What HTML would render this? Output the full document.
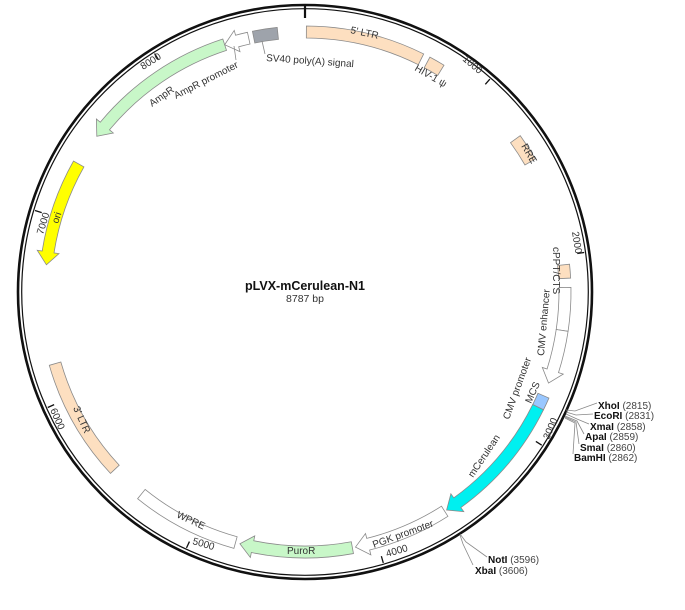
<!DOCTYPE html>
<html><head><meta charset="utf-8">
<style>
html,body{margin:0;padding:0;background:#fff;}
svg{display:block;}
text{font-family:"Liberation Sans",sans-serif;fill:#333;}
.t{font-size:10px;}
.f{font-size:10px;}
.b{font-size:10px;font-weight:bold;fill:#111;}
.n{font-size:10px;fill:#444;}
</style></head><body>
<svg id="s" width="685" height="610" viewBox="0 0 685 610" xmlns="http://www.w3.org/2000/svg">
<g id="shapes"></g>
<circle cx="305" cy="292" r="287" fill="none" stroke="#111" stroke-width="2.6"/>
<circle cx="305" cy="292" r="283.3" fill="none" stroke="#111" stroke-width="1.2"/>
<line x1="305" y1="4" x2="305" y2="18" stroke="#111" stroke-width="2.2"/>
<g id="ticks"></g>
<text class="t" transform="translate(462,60) rotate(40)">1000</text>
<text class="t" transform="translate(572,232) rotate(81)">2000</text>
<text class="t" transform="translate(549,440) rotate(-67)">3000</text>
<text class="t" transform="translate(387,557) rotate(-16)">4000</text>
<text class="t" transform="translate(192,544) rotate(16)">5000</text>
<text class="t" transform="translate(50,410) rotate(66)">6000</text>
<text class="t" transform="translate(43,235) rotate(-73)">7000</text>
<text class="t" transform="translate(143,70) rotate(-32)">8000</text>
<text class="f" transform="translate(350,33) rotate(12)">5' LTR</text>
<text class="f" transform="translate(414,70) rotate(30)">HIV-1 ψ</text>
<text class="f" transform="translate(521,146) rotate(60)">RRE</text>
<text class="f" transform="translate(553,247) rotate(90)">cPPT/CTS</text>
<text class="f" transform="translate(544,356) rotate(-85)">CMV enhancer</text>
<text class="f" transform="translate(509,420) rotate(-70)">CMV promoter</text>
<text class="f" transform="translate(531,404) rotate(-66)">MCS</text>
<text class="f" transform="translate(473,478) rotate(-56)">mCerulean</text>
<text class="f" transform="translate(374,548) rotate(-20)">PGK promoter</text>
<text class="f" transform="translate(287,554)">PuroR</text>
<text class="f" transform="translate(176,517) rotate(25)">WPRE</text>
<text class="f" transform="translate(73,408) rotate(66)">3' LTR</text>
<text class="f" transform="translate(58,224) rotate(-72)">ori</text>
<text class="f" transform="translate(152,107) rotate(-35)">AmpR</text>
<text class="f" transform="translate(176,99) rotate(-27)">AmpR promoter</text>
<text class="f" transform="translate(266,61) rotate(4)">SV40 poly(A) signal</text>
<g stroke="#888" stroke-width="0.8" fill="none">
<line x1="262" y1="41" x2="265" y2="54"/>
<line x1="234" y1="46" x2="236" y2="60"/>
<polyline points="566,410 575,411 597,403"/>
<polyline points="566,412 576,415 593,414"/>
<polyline points="566,414 577,419 589,424"/>
<polyline points="565,416 577,421 584,434"/>
<polyline points="565,417 576,422 579,444"/>
<polyline points="565,418 575,423 573,454"/>
<polyline points="460,534 466,542 487,557"/>
<polyline points="460,535 463,544 473,565"/>
</g>
<text class="b" x="598" y="409">XhoI <tspan class="n" font-weight="normal">(2815)</tspan></text>
<text class="b" x="594" y="419">EcoRI <tspan class="n" font-weight="normal">(2831)</tspan></text>
<text class="b" x="590" y="430">XmaI <tspan class="n" font-weight="normal">(2858)</tspan></text>
<text class="b" x="585" y="440">ApaI <tspan class="n" font-weight="normal">(2859)</tspan></text>
<text class="b" x="580" y="451">SmaI <tspan class="n" font-weight="normal">(2860)</tspan></text>
<text class="b" x="574" y="461">BamHI <tspan class="n" font-weight="normal">(2862)</tspan></text>
<text class="b" x="488" y="563">NotI <tspan class="n" font-weight="normal">(3596)</tspan></text>
<text class="b" x="475" y="574">XbaI <tspan class="n" font-weight="normal">(3606)</tspan></text>
<text x="305" y="290" text-anchor="middle" style="font-size:12.5px;font-weight:bold;fill:#111">pLVX-mCerulean-N1</text>
<text x="305" y="302" text-anchor="middle" style="font-size:10.5px;fill:#333">8787 bp</text>
</svg>
<script>
var cx=305,cy=292,NS="http://www.w3.org/2000/svg";
function P(r,a){a=a*Math.PI/180;return (cx+r*Math.sin(a)).toFixed(2)+","+(cy-r*Math.cos(a)).toFixed(2);}
function arc(r,a1,a2){var large=Math.abs(a2-a1)>180?1:0;var sw=a2>a1?1:0;return "A"+r+","+r+" 0 "+large+","+sw+" "+P(r,a2);}
function feat(a1,a2,dir,fill,r1,r2){r1=r1||254;r2=r2||266;var rm=(r1+r2)/2,w=5,h=13/rm*180/Math.PI;var d;
 if(dir==1){var b=a2-h;d="M"+P(r2,a1)+arc(r2,a1,b)+"L"+P(r2+w,b)+"L"+P(rm,a2)+"L"+P(r1-w,b)+"L"+P(r1,b)+arc(r1,b,a1)+"Z";}
 else if(dir==-1){var b=a1+h;d="M"+P(r2,a2)+arc(r2,a2,b)+"L"+P(r2+w,b)+"L"+P(rm,a1)+"L"+P(r1-w,b)+"L"+P(r1,b)+arc(r1,b,a2)+"Z";}
 else{d="M"+P(r2,a1)+arc(r2,a1,a2)+"L"+P(r1,a2)+arc(r1,a2,a1)+"Z";}
 var p=document.createElementNS(NS,"path");p.setAttribute("d",d);p.setAttribute("fill",fill);p.setAttribute("stroke","#8a8a8a");p.setAttribute("stroke-width","0.8");document.getElementById("shapes").appendChild(p);}
var pe="#fddfc0",gr="#c8f7c8";
feat(0.3,26.5,0,pe);feat(28,31.5,0,pe);feat(54,60,0,pe);feat(84,87,0,pe);
feat(89,98.5,0,"#fff");feat(98.5,110.5,1,"#fff");
feat(113.5,116.3,0,"#99c7ff");feat(116.3,147,1,"#00f0f0");
feat(147.5,168.8,1,"#fff");feat(169.5,194.5,1,gr);feat(195.5,219,0,"#fff");
feat(227,254,0,pe);feat(276,299.5,-1,"#ffff00");feat(306.8,342,-1,gr);
feat(342,347.5,-1,"#fff");feat(348.6,354,0,"#9ea3ab");
var t=document.getElementById("ticks");
for(var i=1;i<=8;i++){var a=i*1000/8787*360;var l=document.createElementNS(NS,"path");l.setAttribute("d","M"+P(275,a)+"L"+P(282,a));l.setAttribute("stroke","#111");l.setAttribute("stroke-width","1.3");t.appendChild(l);}
</script>
</body></html>
